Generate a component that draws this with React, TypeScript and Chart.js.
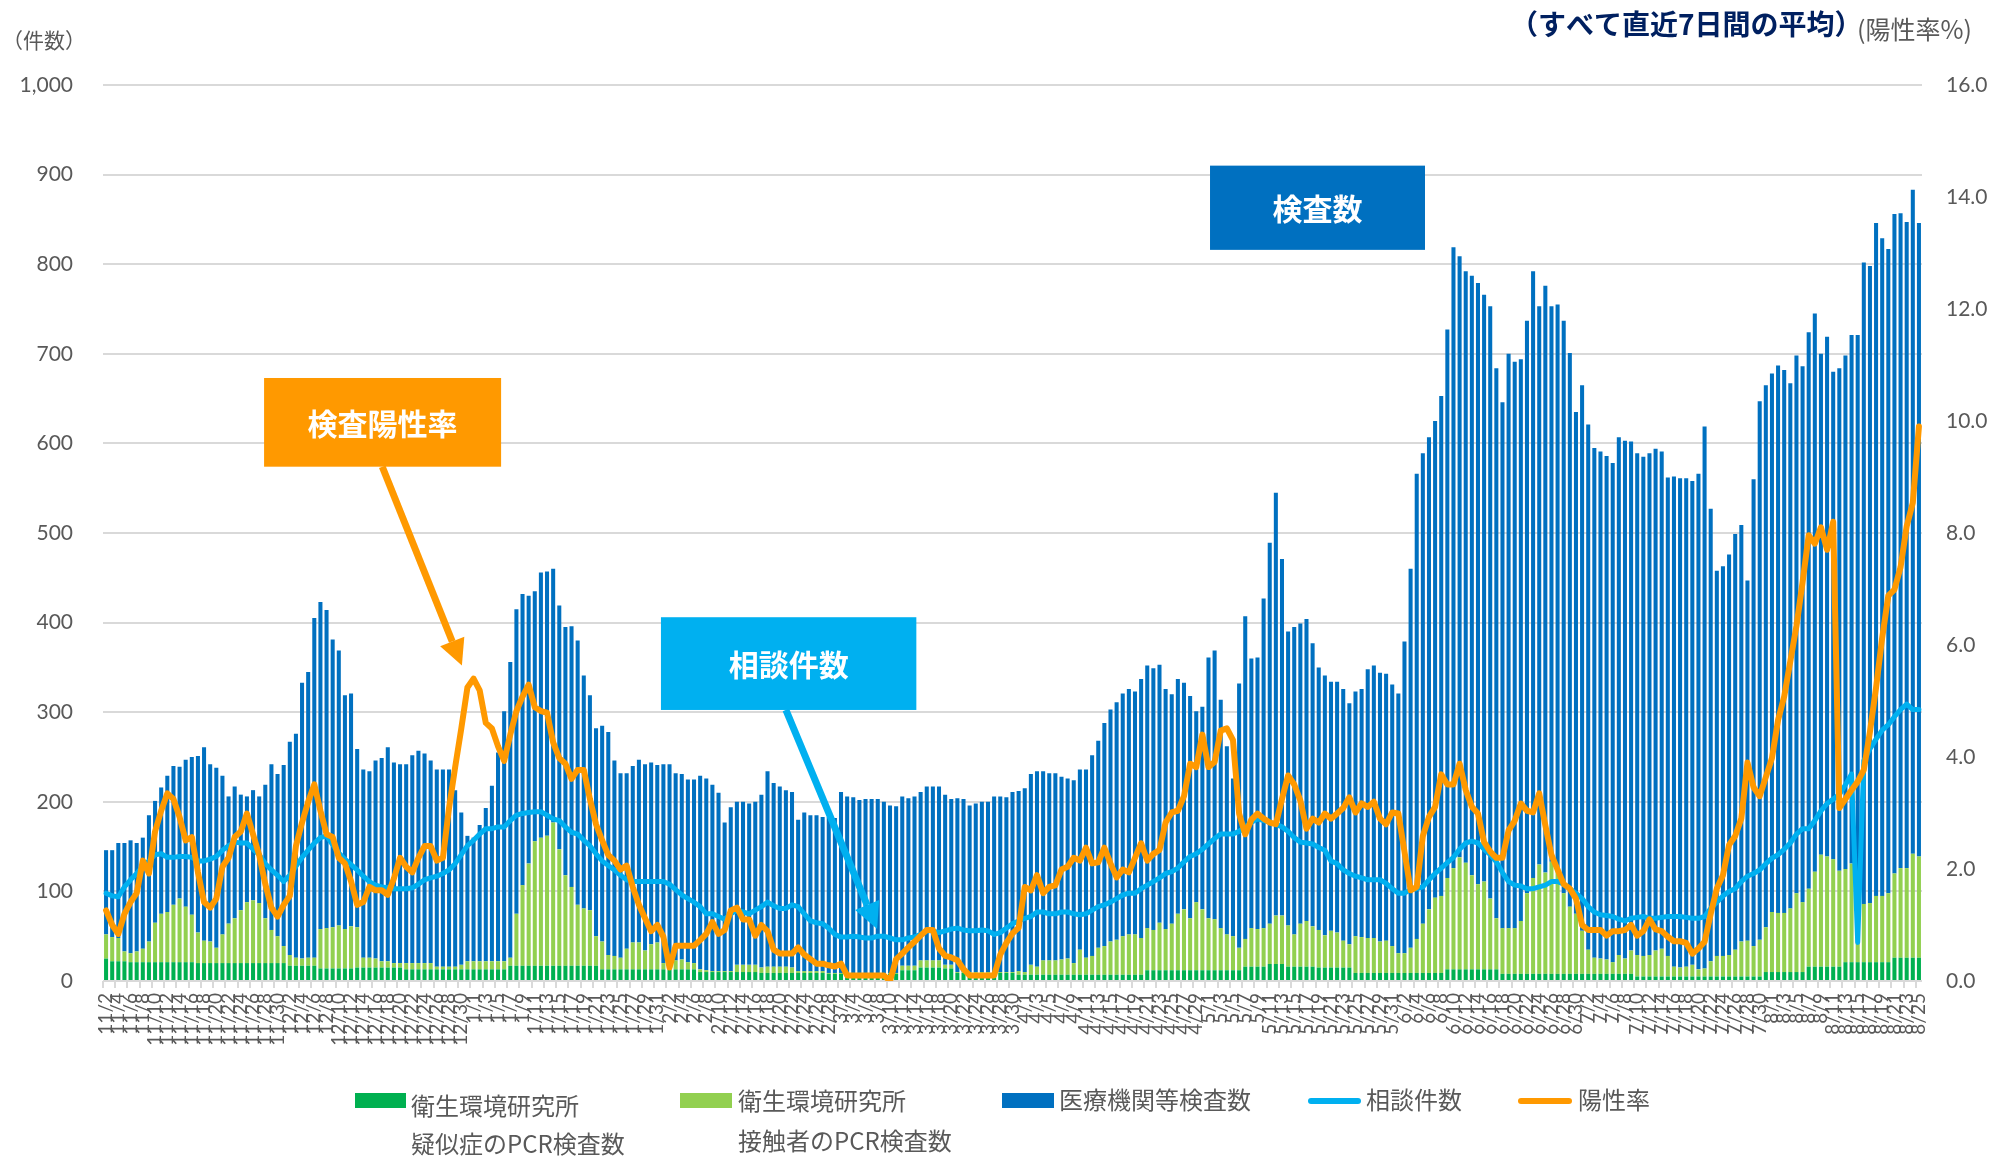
import React, { useEffect, useRef } from "react";
import { Chart, registerables } from "chart.js";

Chart.register(...registerables);

// ---- categories (2020/11/2 .. 2021/8/25, daily) ----
const MONTH_SPANS: number[][] = [
  [11, 2, 30], [12, 1, 31], [1, 1, 31], [2, 1, 28], [3, 1, 31],
  [4, 1, 30], [5, 1, 31], [6, 1, 30], [7, 1, 31], [8, 1, 25],
];
const DATES: string[] = [];
for (const [m, s, e] of MONTH_SPANS) for (let d = s; d <= e; d++) DATES.push(`${m}/${d}`);

// ---- series (7-day averages) ----
const SUSPECT_PCR = [
  25,22,22,22,21,21,21,21,21,21,21,21,21,21,21,20,20,20,20,20,20,20,20,20,20,20,20,20,20,20,17,17,17,17,17,14,14,14,14,14,14,15,15,15,15,15,15,15,15,
  13,13,13,13,13,13,13,13,13,13,13,13,13,13,13,13,13,17,17,17,17,17,17,17,17,17,17,17,17,17,17,17,13,13,13,13,13,13,13,13,13,13,13,13,13,13,13,13,10,10,
  10,10,10,10,10,10,10,10,9,9,9,9,9,9,9,9,9,9,9,8,8,8,8,8,8,8,8,8,8,8,8,12,12,12,15,15,15,15,14,14,9,9,9,9,9,9,9,9,9,9,
  7,7,7,7,7,7,7,7,7,7,7,7,7,7,7,7,7,7,7,7,7,12,12,12,12,12,12,12,12,12,12,12,12,12,12,12,12,16,16,16,16,19,19,19,16,16,16,16,16,15,
  15,15,15,15,15,9,9,9,9,9,9,9,9,9,9,9,9,9,9,9,13,13,13,13,13,13,13,13,13,8,8,8,8,8,8,8,8,8,8,8,8,8,8,8,8,8,8,8,8,8,8,
  5,5,5,5,5,5,5,5,5,5,5,5,5,5,5,5,5,5,5,5,5,10,10,10,10,10,10,10,16,16,16,16,16,16,21,21,21,21,21,21,21,21,26,26,26,26,26,26,
];
const CONTACT_PCR = [
  27,27,26,11,10,12,15,23,44,54,56,64,71,62,53,34,25,24,17,32,44,50,59,68,70,67,50,37,30,19,12,9,8,9,9,44,45,46,48,44,47,45,11,11,10,7,7,5,5,
  7,7,7,7,7,3,3,3,3,5,9,9,9,9,9,9,9,9,58,90,114,139,143,145,160,130,101,88,68,64,62,33,31,16,15,13,23,30,30,21,28,30,7,10,10,11,8,7,3,2,
  1,1,1,1,8,8,8,8,6,7,7,7,7,6,2,2,2,2,2,1,1,1,1,1,1,1,1,1,1,1,1,5,5,5,8,8,8,8,4,4,1,1,1,1,1,1,1,1,1,1,
  4,3,11,9,16,16,16,17,18,13,28,19,21,30,32,37,39,43,45,45,41,47,45,53,46,52,63,68,58,76,68,58,57,47,40,38,25,31,43,42,43,45,54,54,46,36,48,51,45,42,
  36,41,39,30,26,41,40,39,39,35,36,30,22,22,28,38,55,71,84,86,102,113,125,119,105,95,98,79,57,51,51,51,59,90,107,122,113,125,114,90,75,67,48,27,18,17,16,13,21,17,
  26,24,23,24,29,31,23,11,10,11,13,8,9,17,23,23,24,30,39,40,34,41,50,67,66,66,71,88,78,87,106,125,123,120,107,104,110,64,65,66,74,74,77,94,100,100,116,113,
];
const MEDICAL_TESTS = [
  94,97,106,121,126,121,124,141,136,141,152,155,147,164,176,197,216,198,201,177,142,147,129,118,123,119,149,185,181,202,238,250,308,319,379,365,355,321,307,261,260,199,210,208,221,227,239,224,222,
  222,232,237,234,226,220,220,220,197,170,140,138,152,171,196,233,279,330,340,325,299,279,296,295,283,272,277,291,295,260,240,232,241,249,218,206,196,197,204,208,203,198,222,219,209,207,204,205,216,214,
  208,199,166,183,182,182,180,182,193,218,205,201,197,196,169,177,174,174,172,174,173,202,197,196,193,194,194,194,191,187,186,189,187,189,188,194,194,194,190,185,194,193,186,188,190,190,196,196,195,201,
  201,205,213,218,211,209,209,204,201,204,201,210,224,231,249,259,265,271,274,271,289,293,292,288,268,256,262,253,248,213,226,291,300,255,210,176,295,360,301,303,368,425,472,398,328,343,335,337,316,293,
  290,278,280,281,269,273,277,300,304,300,298,292,290,348,423,519,525,527,532,558,612,693,671,660,669,671,655,661,614,587,641,632,627,639,677,623,655,620,633,639,618,560,609,586,569,566,562,557,578,578,
  568,560,557,560,560,555,534,547,546,545,540,553,605,505,430,435,447,464,465,402,521,601,605,601,611,606,586,600,598,621,623,559,580,544,561,573,590,636,716,711,751,734,719,736,731,721,741,707,
];
const CONSULTATIONS = [
  98,95,94,105,113,120,128,134,141,142,138,138,139,139,138,134,134,136,139,146,151,155,154,154,147,141,131,124,118,111,118,128,138,146,154,160,162,152,143,136,130,124,117,111,107,105,104,103,103,
  103,104,108,113,115,117,120,124,131,141,151,157,164,170,170,172,172,179,185,187,188,189,189,185,181,179,172,166,164,157,151,142,134,129,124,118,113,111,111,111,111,111,111,108,102,96,92,88,83,75,
  75,72,69,75,79,77,75,79,83,88,84,81,81,85,83,75,67,65,64,59,52,49,49,50,49,48,48,50,50,48,46,46,48,49,52,56,56,54,56,58,59,57,56,56,57,56,52,54,59,64,
  67,70,72,77,77,75,75,77,77,75,74,75,79,83,85,88,92,96,98,98,103,107,111,115,120,122,126,133,139,142,147,153,159,164,164,164,167,172,177,181,179,177,175,172,167,160,155,154,153,149,
  146,134,131,124,120,117,115,113,113,113,109,103,98,98,102,103,105,113,120,126,132,138,147,154,156,154,147,141,133,121,111,107,106,103,103,105,107,111,111,108,103,98,92,83,77,74,73,72,69,67,
  70,71,72,70,70,71,72,72,72,71,70,70,72,81,88,95,100,103,111,117,120,124,131,137,141,147,154,164,170,170,179,190,198,203,208,219,231,43,246,259,270,280,286,295,303,309,303,303,
];
const POSITIVE_RATE = [
  1.26,1.0,0.84,1.2,1.41,1.57,2.15,1.92,2.67,3.04,3.35,3.25,2.93,2.51,2.57,1.94,1.41,1.31,1.47,2.04,2.2,2.57,2.67,2.99,2.62,2.25,1.73,1.31,1.15,1.36,1.52,2.41,2.83,3.2,3.51,3.04,2.62,2.57,2.2,2.1,1.78,1.36,1.41,1.68,1.62,1.62,1.54,1.83,2.2,
  2.04,1.94,2.2,2.41,2.41,2.15,2.2,3.09,3.82,4.51,5.24,5.4,5.19,4.61,4.51,4.19,3.93,4.4,4.82,5.08,5.29,4.89,4.82,4.79,4.26,3.98,3.88,3.61,3.77,3.77,3.25,2.8,2.51,2.25,2.15,1.99,2.06,1.68,1.36,1.12,0.89,1.0,0.79,0.24,0.63,0.63,0.63,0.63,0.73,0.84,
  1.05,0.84,0.91,1.26,1.31,1.1,1.1,0.81,1.0,0.89,0.56,0.49,0.49,0.49,0.6,0.47,0.39,0.31,0.31,0.28,0.26,0.31,0.1,0.1,0.1,0.1,0.1,0.1,0.1,0.0,0.39,0.49,0.6,0.7,0.81,0.91,0.91,0.58,0.45,0.42,0.37,0.21,0.1,0.1,0.1,0.1,0.1,0.47,0.68,0.85,
  0.95,1.68,1.62,1.89,1.57,1.68,1.71,1.99,2.04,2.2,2.15,2.38,2.1,2.12,2.38,2.1,1.85,1.99,1.94,2.2,2.46,2.15,2.27,2.34,2.83,3.01,3.04,3.3,3.88,3.82,4.4,3.82,3.91,4.47,4.51,4.3,2.99,2.62,2.88,2.99,2.9,2.83,2.8,3.25,3.67,3.51,3.22,2.72,2.9,2.83,
  2.99,2.9,2.99,3.09,3.28,3.01,3.17,3.11,3.2,2.9,2.8,3.01,2.99,2.31,1.62,1.68,2.59,2.93,3.11,3.69,3.51,3.51,3.88,3.41,3.11,2.99,2.48,2.31,2.2,2.2,2.69,2.86,3.17,3.04,3.01,3.35,2.78,2.25,1.99,1.73,1.65,1.47,1.0,0.91,0.91,0.91,0.81,0.89,0.89,0.91,
  1.0,0.81,0.89,1.1,0.92,0.89,0.79,0.71,0.71,0.68,0.49,0.58,0.7,1.2,1.65,1.89,2.43,2.59,2.9,3.9,3.46,3.3,3.64,3.98,4.66,5.08,5.71,6.34,7.12,7.96,7.81,8.1,7.7,8.2,3.09,3.25,3.41,3.56,3.77,4.45,5.24,6.13,6.88,6.99,7.39,8.12,8.54,9.9,
];

// ---- axis ranges ----
const COUNT_MAX = 1000;
const COUNT_STEP = 100;
const RATE_MAX = 16;
const RATE_STEP = 2;

// ---- styling ----
const C_DARK_GREEN = "#00b050";
const C_LIGHT_GREEN = "#92d050";
const C_BLUE = "#0070c0";
const C_SKY = "#00b0f0";
const C_ORANGE = "#ff9900";
const C_TEXT = "#595959";
const C_GRID = "#d9d9d9";
const NUM_FONT = "Lato, 'Noto Sans CJK JP', sans-serif";
const JP_FONT = "'Noto Sans CJK JP', 'Noto Sans', sans-serif";

// annotation callouts, placed in data coordinates (category index, count value)
const CALLOUTS = [
  { text: "検査数", color: C_BLUE, x0: 180.25, x1: 215.35, v0: 910, v1: 816 },
  { text: "検査陽性率", color: C_ORANGE, x0: 25.8, x1: 64.5, v0: 673, v1: 574,
    arrow: { fx: 45.1, fv: 574, tx: 58.1, tv: 352 } },
  { text: "相談件数", color: C_SKY, x0: 90.6, x1: 132.3, v0: 406, v1: 302.5,
    arrow: { fx: 111.0, fv: 302.5, tx: 125.9, tv: 58 } },
];

function drawArrow(ctx: CanvasRenderingContext2D, x1: number, y1: number, x2: number, y2: number, color: string) {
  const ang = Math.atan2(y2 - y1, x2 - x1);
  const headLen = 26, headW = 13;
  const bx = x2 - headLen * Math.cos(ang), by = y2 - headLen * Math.sin(ang);
  ctx.save();
  ctx.strokeStyle = color;
  ctx.lineWidth = 7;
  ctx.beginPath();
  ctx.moveTo(x1, y1);
  ctx.lineTo(bx, by);
  ctx.stroke();
  ctx.fillStyle = color;
  ctx.beginPath();
  ctx.moveTo(x2, y2);
  ctx.lineTo(bx + headW * Math.sin(ang), by - headW * Math.cos(ang));
  ctx.lineTo(bx - headW * Math.sin(ang), by + headW * Math.cos(ang));
  ctx.closePath();
  ctx.fill();
  ctx.restore();
}

const overlayPlugin = {
  id: "overlay",
  afterDatasetsDraw(chart: any) {
    const ctx: CanvasRenderingContext2D = chart.ctx;
    const xs = chart.scales.x, ys = chart.scales.y;
    const X = (i: number) => xs.getPixelForValue(i);
    const Y = (v: number) => ys.getPixelForValue(v);
    ctx.save();
    for (const c of CALLOUTS) {
      if (c.arrow) drawArrow(ctx, X(c.arrow.fx), Y(c.arrow.fv), X(c.arrow.tx), Y(c.arrow.tv), c.color);
      const l = X(c.x0), r = X(c.x1), t = Y(c.v0), b = Y(c.v1);
      ctx.fillStyle = c.color;
      ctx.fillRect(l, t, r - l, b - t);
      ctx.fillStyle = "#ffffff";
      ctx.font = `bold 30px ${JP_FONT}`;
      ctx.textAlign = "center";
      ctx.textBaseline = "middle";
      ctx.fillText(c.text, (l + r) / 2, (t + b) / 2 + 1);
    }
    ctx.restore();
  },
  afterDraw(chart: any) {
    const ctx: CanvasRenderingContext2D = chart.ctx;
    ctx.save();
    ctx.textBaseline = "middle";
    // axis headers
    ctx.fillStyle = C_TEXT;
    ctx.font = `21px ${JP_FONT}`;
    ctx.textAlign = "left";
    ctx.fillText("（件数）", 2, 40);
    ctx.fillStyle = "#002060";
    ctx.font = `bold 28px ${JP_FONT}`;
    ctx.fillText("（すべて直近7日間の平均）", 1510, 24);
    ctx.fillStyle = C_TEXT;
    ctx.font = `25px ${JP_FONT}`;
    ctx.fillText("(陽性率%)", 1857, 29);

    // legend
    ctx.font = `24px ${JP_FONT}`;
    ctx.fillStyle = C_DARK_GREEN;
    ctx.fillRect(355, 1093, 51, 15);
    ctx.fillStyle = C_TEXT;
    ctx.fillText("衛生環境研究所", 411, 1106);
    ctx.fillText("疑似症のPCR検査数", 411, 1144);

    ctx.fillStyle = C_LIGHT_GREEN;
    ctx.fillRect(680, 1093, 52, 15);
    ctx.fillStyle = C_TEXT;
    ctx.fillText("衛生環境研究所", 738, 1101);
    ctx.fillText("接触者のPCR検査数", 738, 1141);

    ctx.fillStyle = C_BLUE;
    ctx.fillRect(1002, 1093, 52, 15);
    ctx.fillStyle = C_TEXT;
    ctx.fillText("医療機関等検査数", 1059, 1100);

    ctx.lineCap = "round";
    ctx.lineWidth = 6;
    ctx.strokeStyle = C_SKY;
    ctx.beginPath(); ctx.moveTo(1311, 1101); ctx.lineTo(1358, 1101); ctx.stroke();
    ctx.fillText("相談件数", 1366, 1100);

    ctx.strokeStyle = C_ORANGE;
    ctx.beginPath(); ctx.moveTo(1521, 1101); ctx.lineTo(1569, 1101); ctx.stroke();
    ctx.fillText("陽性率", 1578, 1100);
    ctx.restore();
  },
};

export default function App() {
  const ref = useRef<HTMLCanvasElement>(null);

  useEffect(() => {
    document.body.style.margin = "0";
    Chart.defaults.font.family = NUM_FONT;
    Chart.defaults.color = C_TEXT;
    const canvas = ref.current!;
    const chart = new Chart(canvas, {
      type: "bar",
      data: {
        labels: DATES,
        datasets: [
          { type: "bar", label: "衛生環境研究所 疑似症のPCR検査数", data: SUSPECT_PCR, backgroundColor: C_DARK_GREEN,
            yAxisID: "y", stack: "tests", order: 2, barPercentage: 0.66, categoryPercentage: 1 },
          { type: "bar", label: "衛生環境研究所 接触者のPCR検査数", data: CONTACT_PCR, backgroundColor: C_LIGHT_GREEN,
            yAxisID: "y", stack: "tests", order: 2, barPercentage: 0.66, categoryPercentage: 1 },
          { type: "bar", label: "医療機関等検査数", data: MEDICAL_TESTS, backgroundColor: C_BLUE,
            yAxisID: "y", stack: "tests", order: 2, barPercentage: 0.66, categoryPercentage: 1 },
          { type: "line", label: "相談件数", data: CONSULTATIONS, borderColor: C_SKY, backgroundColor: C_SKY,
            borderWidth: 5, pointRadius: 0, tension: 0, yAxisID: "y", stack: "consult", order: 1,
            borderJoinStyle: "round", borderCapStyle: "round" },
          { type: "line", label: "陽性率", data: POSITIVE_RATE, borderColor: C_ORANGE, backgroundColor: C_ORANGE,
            borderWidth: 6, pointRadius: 0, tension: 0, yAxisID: "y2", stack: "rate", order: 0,
            borderJoinStyle: "round", borderCapStyle: "round" },
        ] as any,
      },
      options: {
        responsive: false,
        animation: false,
        devicePixelRatio: 1,
        layout: { padding: { top: 85, bottom: 100, left: 0, right: 0 } },
        plugins: { legend: { display: false }, tooltip: { enabled: false } },
        scales: {
          x: {
            stacked: true,
            offset: true,
            border: { display: false },
            grid: {
              drawOnChartArea: false,
              drawTicks: true,
              tickLength: 7,
              lineWidth: 2,
              offset: true,
              color: (ctx: any) => (typeof ctx.index === "number" && ctx.index % 2 === 0 ? C_GRID : "rgba(0,0,0,0)"),
            },
            ticks: {
              autoSkip: false,
              maxRotation: 90,
              minRotation: 90,
              padding: 5,
              color: C_TEXT,
              font: { size: 19, family: NUM_FONT },
              callback: (_v: any, i: number) => (i % 2 === 0 ? DATES[i] : ""),
            },
            afterFit: (s: any) => { s.height = 76; },
          },
          y: {
            position: "left",
            stacked: true,
            min: 0,
            max: COUNT_MAX,
            border: { display: false },
            grid: { color: C_GRID, lineWidth: 2, drawTicks: false },
            ticks: {
              stepSize: COUNT_STEP,
              padding: 30,
              color: C_TEXT,
              font: { size: 21, family: NUM_FONT },
              callback: (v: any) => Number(v).toLocaleString("en-US"),
            },
            afterFit: (s: any) => { s.width = 103; },
          },
          y2: {
            position: "right",
            min: 0,
            max: RATE_MAX,
            border: { display: false },
            grid: { drawOnChartArea: false, drawTicks: false },
            ticks: {
              stepSize: RATE_STEP,
              padding: 24,
              color: C_TEXT,
              font: { size: 21, family: NUM_FONT },
              callback: (v: any) => Number(v).toFixed(1),
            },
            afterFit: (s: any) => { s.width = 78; },
          },
        },
      } as any,
      plugins: [overlayPlugin],
    });
    return () => chart.destroy();
  }, []);

  return (
    <div style={{ position: "absolute", left: 0, top: 0, width: 2000, height: 1157, background: "#ffffff" }}>
      <canvas ref={ref} width={2000} height={1157} style={{ display: "block", width: 2000, height: 1157 }} />
    </div>
  );
}
